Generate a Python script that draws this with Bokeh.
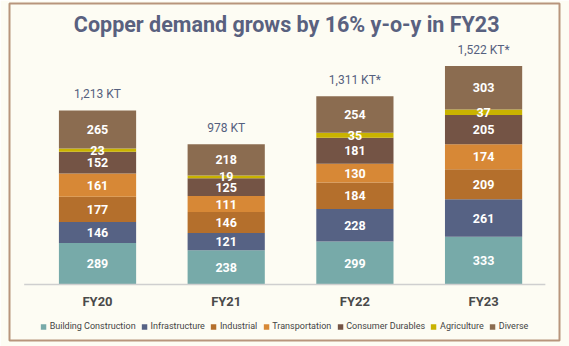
from bokeh.plotting import figure
from bokeh.models import ColumnDataSource, Label, Legend, LegendItem
from bokeh.core.properties import value
from bokeh.embed import file_html
from bokeh.resources import INLINE

years = ["FY20", "FY21", "FY22", "FY23"]
segments = ["Building Construction", "Infrastructure", "Industrial", "Transportation",
            "Consumer Durables", "Agriculture", "Diverse"]
building = [289, 238, 299, 333]
infrastructure = [146, 121, 228, 261]
industrial = [177, 146, 184, 209]
transportation = [161, 111, 130, 174]
consumer = [152, 125, 181, 205]
agriculture = [23, 19, 35, 37]
diverse = [265, 218, 254, 303]
total_labels = ["1,213 KT", "978 KT", "1,311 KT*", "1,522 KT*"]
title_text = "Copper demand grows by 16% y-o-y in FY23"

colors = ["#77aaa9", "#566284", "#b46f2c", "#d78836", "#745445", "#c9b300", "#8b6c50"]
series = [building, infrastructure, industrial, transportation, consumer, agriculture, diverse]
keys = ["s%d" % i for i in range(len(series))]

xs = list(range(len(years)))
data = {"x": xs}
for k, s in zip(keys, series):
    data[k] = s
src = ColumnDataSource(data)

BG = "#fdfcf3"
p = figure(width=569, height=346, output_backend="svg", toolbar_location=None,
           x_range=(-0.684, 3.590), y_range=(-390, 1958),
           x_axis_type=None, y_axis_type=None,
           min_border_left=9, min_border_right=10, min_border_top=3, min_border_bottom=6,
           background_fill_color=BG, border_fill_color=BG,
           outline_line_color="#b8957c", outline_line_width=2)
p.grid.visible = False

renderers = p.vbar_stack(keys, x="x", width=0.6, color=colors, source=src, line_width=0)

# segment value labels
lx, ly, lt = [], [], []
bottoms = [0] * len(years)
for s in series:
    for i, v in enumerate(s):
        lx.append(xs[i])
        ly.append(bottoms[i] + v / 2)
        lt.append(str(v))
        bottoms[i] += v
p.text(x=lx, y=ly, text=lt, text_color="white", text_font=value("Roboto"),
       text_font_style="bold", text_font_size="12.5px", text_align="center",
       text_baseline="middle")

# totals
totals = bottoms
p.text(x=xs, y=totals, text=total_labels, text_color="#55607e", text_font=value("Roboto"),
       text_font_size="12px", text_align="center", text_baseline="middle", y_offset=-16)

# axis line
p.segment(x0=[-0.57], x1=[3.48], y0=[0], y1=[0], line_color="#cfcfcf", line_width=1.5)

# category labels
p.text(x=xs, y=[0] * len(xs), text=years, text_color="#4a4a4a", text_font=value("Roboto"),
       text_font_style="bold", text_font_size="13px", text_align="center",
       text_baseline="middle", y_offset=17)

# title
p.add_layout(Label(x=1.47, y=1812, text=title_text, text_font="Roboto",
                   text_font_style="bold", text_font_size="21.5px", text_color="#59617f",
                   text_align="center", text_baseline="middle"))

legend = Legend(items=[LegendItem(label=n, renderers=[r]) for n, r in zip(segments, renderers)],
                orientation="horizontal", location="bottom_center",
                glyph_width=7, glyph_height=7, label_text_font="Roboto",
                label_text_font_size="9px", label_text_color="#444444",
                label_standoff=3, spacing=5, padding=0, margin=9, label_height=10,
                background_fill_alpha=0, border_line_alpha=0)
p.add_layout(legend, "center")

open("out.html", "w").write(file_html(p, INLINE))
